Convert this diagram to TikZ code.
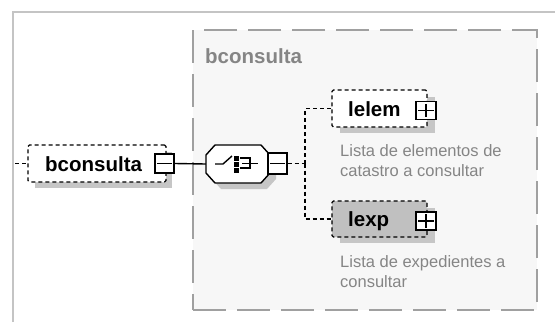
\documentclass[tikz,border=0pt]{standalone}
\usepackage{fontspec}
\setmainfont{Liberation Sans}
\usetikzlibrary{calc}
\definecolor{shadowgray}{HTML}{C6C6C6}
\definecolor{framegray}{HTML}{C4C4C4}
\definecolor{groupfill}{HTML}{F7F7F7}
\definecolor{groupline}{HTML}{A0A0A0}
\definecolor{textgray}{HTML}{858585}
\definecolor{optfill}{HTML}{C0C0C0}
\begin{document}
\begin{tikzpicture}[x=1pt,y=-1pt,
  elembox/.style={draw, line width=1.4pt, dash pattern=on 4pt off 3pt, rounded corners=1.5pt,
    minimum width=95pt, minimum height=37pt, inner sep=0pt},
  pmbox/.style={draw, fill=white, line width=1.4pt, minimum width=19pt, minimum height=19pt, inner sep=0pt},
  conn/.style={line width=1.4pt, dash pattern=on 4pt off 3pt},
  solidconn/.style={line width=1.4pt},
  boldlab/.style={font=\fontsize{20.5}{24}\selectfont\bfseries, inner sep=0pt, anchor=base west},
  desc/.style={font=\fontsize{16.5}{20}\selectfont, text=textgray, inner sep=0pt, anchor=north west, align=left},
]
\useasboundingbox (0,0) rectangle (555,322);
% outer frame
\draw[framegray, line width=2.5pt] (13,322) -- (13,12) -- (555,12);
% group box
\node[draw=groupline, fill=groupfill, line width=2pt, dash pattern=on 33pt off 11pt,
  minimum width=344pt, minimum height=280pt, inner sep=0pt] (grp) at (365,170) {};
\node[boldlab, text=textgray] (grplab) at (205,63) {bconsulta};

% root element
\fill[shadowgray] (35,152) rectangle (172,188);
\node[elembox, fill=white, minimum width=138pt] (root) at (97,163.5) {};
\node[boldlab] (roottxt) at (45,171) {bconsulta};
\node[pmbox] (rootmin) at (164.5,163.5) {};
\draw[solidconn] ($(rootmin.west)+(3,0)$) -- ($(rootmin.east)+(-3,0)$);
\coordinate (rootin) at (15,163.5);
\draw[conn] (rootin) -- (root.west);

% sequence compositor
\node[minimum width=64pt, minimum height=38pt, inner sep=0pt] (seq) at (238,164) {};
\fill[shadowgray] (221,151) -- (267,151) -- (276,161) -- (276,179) -- (267,189) -- (221,189) -- (212,179) -- (212,161) -- cycle;
\draw[solidconn, fill=white] (215,145) -- (261,145) -- (270,155) -- (270,173) -- (261,183) -- (215,183) -- (206,173) -- (206,155) -- cycle;
\draw[line width=1.4pt] (215,164) -- (223,164) -- (232,156);
\fill (234,156) rectangle (238.5,160.5);
\fill (234,162) rectangle (238.5,166.5);
\fill (234,168) rectangle (238.5,172.5);
\draw[line width=1.4pt] (240,158) -- (250,158) -- (250,168) -- (240,168);
\draw[line width=1.4pt] (242,163.5) -- (258,163.5);
\node[pmbox, minimum height=21pt] (seqmin) at (277.5,163.5) {};
\draw[solidconn] ($(seqmin.west)+(3,0)$) -- ($(seqmin.east)+(-3,0)$);
\draw[solidconn] (rootmin.east) -- (seq.west);

% children
\fill[shadowgray] (340,97) rectangle (435,133);
\node[elembox, fill=white] (lelem) at (379.5,108.5) {};
\node[boldlab] (lelemtxt) at (348,116.5) {lelem};
\node[pmbox, minimum width=20pt, minimum height=18pt] (lelemplus) at (426,110.5) {};
\draw[solidconn] ($(lelemplus.west)+(3,0)$) -- ($(lelemplus.east)+(-3,0)$);
\draw[solidconn] ($(lelemplus.north)+(0,3)$) -- ($(lelemplus.south)+(0,-3)$);
\node[desc] (lelemdesc) at (340,144) {Lista de elementos de\\catastro a consultar};

\fill[shadowgray] (340,208) rectangle (435,243);
\node[elembox, fill=optfill, minimum height=36pt] (lexp) at (379.5,219) {};
\node[boldlab] (lexptxt) at (348,226.5) {lexp};
\node[pmbox, minimum width=20pt, minimum height=18pt] (lexpplus) at (426,221) {};
\draw[solidconn] ($(lexpplus.west)+(3,0)$) -- ($(lexpplus.east)+(-3,0)$);
\draw[solidconn] ($(lexpplus.north)+(0,3)$) -- ($(lexpplus.south)+(0,-3)$);
\node[desc] (lexpdesc) at (340,255) {Lista de expedientes a\\consultar};

% connectors
\coordinate (fork) at (305,163.5);
\draw[conn] (seqmin.east) -- (fork);
\draw[conn] (fork) |- (lelem.west);
\draw[conn] (fork) |- (lexp.west);
\end{tikzpicture}
\end{document}
